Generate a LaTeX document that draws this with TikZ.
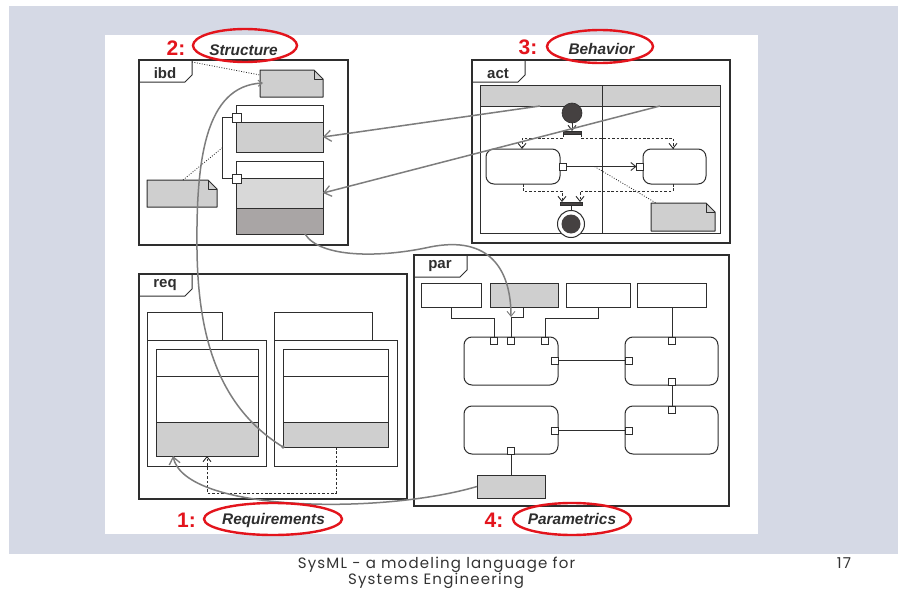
\documentclass[tikz,border=0pt]{standalone}
\usepackage{fontspec}
\setmainfont{Liberation Sans}
\newfontfamily\slidefont[LetterSpace=8]{Poppins}
\usetikzlibrary{arrows.meta,calc,shapes.geometric}

\definecolor{band}{HTML}{D5D9E5}
\definecolor{ink}{HTML}{2E2E2E}
\definecolor{lgray}{HTML}{CFCFCF}
\definecolor{mgray}{HTML}{D8D8D8}
\definecolor{dgray}{HTML}{A9A5A5}
\definecolor{knob}{HTML}{454141}
\definecolor{link}{HTML}{7D7D7D}
\definecolor{hilite}{HTML}{E3141C}

\tikzset{
  box/.style={draw=ink, line width=1pt, inner sep=0pt, outer sep=0pt, anchor=north west},
  ghost/.style={inner sep=0pt, outer sep=0pt, anchor=north west},
  frame/.style={box, line width=1.1pt},
  rbox/.style={box, rounded corners=8pt},
  pin/.style={draw=ink, fill=white, line width=0.9pt, minimum size=7pt, inner sep=0pt, outer sep=0pt},
  wire/.style={draw=ink, line width=0.9pt},
  dflow/.style={wire, dash pattern=on 2.6pt off 1.8pt},
  dots/.style={draw=ink, line width=0.8pt, dash pattern=on 0.9pt off 1.6pt},
  trace/.style={draw=link, line width=1.5pt},
  vtip/.style={-{Straight Barb[length=5pt,width=8pt,line width=0.9pt]}},
  gtip/.style={-{Straight Barb[length=7pt,width=11pt,line width=1.3pt]}},
  tag/.style={inner sep=0pt, anchor=base, text=ink, font=\fontsize{15}{15}\selectfont\bfseries},
  ring/.style={ellipse, draw=hilite, line width=2.4pt, inner sep=0pt},
  num/.style={inner sep=0pt, anchor=base, text=hilite, font=\fontsize{21}{21}\selectfont\bfseries},
  caption/.style={inner sep=0pt, anchor=base, text=ink, font=\fontsize{15.4}{15.4}\selectfont\bfseries\itshape},
  foot/.style={inner sep=0pt, anchor=base, text=black!80, font=\slidefont\fontsize{15}{15}\selectfont},
}

% frame tab: frame node, label, baseline offset below the frame top
\newcommand\frametab[3]{%
  \draw[ink, line width=1pt] ([xshift=53pt]#1.north west) -- ++(0,15) -- ++(-7,7) -- ([yshift=-22pt]#1.north west);
  \node[tag] at ([xshift=26pt,yshift=-#3pt]#1.north west) {#2};
}

% note with a dog-eared corner, drawn over an invisible node
\newcommand\foldnote[1]{%
  \filldraw[fill=lgray, draw=ink, line width=1pt, line join=round]
    (#1.north west) -- ([xshift=-9pt]#1.north east) -- ([yshift=-9pt]#1.north east)
    -- (#1.south east) -- (#1.south west) -- cycle;
  \draw[ink, line width=0.8pt, line join=round]
    ([xshift=-9pt]#1.north east) -- ([xshift=-9pt,yshift=-9pt]#1.north east) -- ([yshift=-9pt]#1.north east);
}

\begin{document}
\begin{tikzpicture}[x=1pt,y=-1pt]
\useasboundingbox (0,0) rectangle (898,589);
\fill[white] (0,0) rectangle (898,589);
\fill[band] (9,6) rectangle (898,554);
\fill[white] (105,35) rectangle (758,534);

% ---------------- ibd ----------------
\node[frame, minimum width=209pt, minimum height=185pt] (ibd) at (139,60) {};
\frametab{ibd}{ibd}{18}

\node[ghost, minimum width=63pt, minimum height=27pt] (n1) at (260,70) {};
\foldnote{n1}
\node[ghost, minimum width=70pt, minimum height=27pt] (n2) at (147,180) {};
\foldnote{n2}

\node[box, fill=white, minimum width=87pt, minimum height=17pt] (b1a) at (236,105) {};
\node[box, fill=lgray, minimum width=87pt, minimum height=30pt] (b1b) at (236,122) {};
\node[box, fill=white, minimum width=87pt, minimum height=17pt] (b2a) at (236,161) {};
\node[box, fill=mgray, minimum width=87pt, minimum height=30pt] (b2b) at (236,178) {};
\node[box, fill=dgray, minimum width=87pt, minimum height=26pt] (b2c) at (236,208) {};

\node[pin, minimum size=9pt] (pt1) at (236.5,117.5) {};
\node[pin, minimum size=9pt] (pt2) at (236.5,178.5) {};
\draw[wire] (pt1.west) -- ++(-10,0) |- (pt2.west);
\coordinate (tap) at (222,148);
\draw[dots] ([xshift=36pt]n2.north west) -- (tap);
\draw[dots] ([xshift=53pt,yshift=-2pt]ibd.north west) -- ([yshift=-5pt]n1.north west);

% ---------------- act ----------------
\node[frame, minimum width=258pt, minimum height=183pt] (act) at (472,60) {};
\frametab{act}{act}{18}

\node[box, fill=white, minimum width=240pt, minimum height=148pt] (lanes) at (480,85) {};
\node[box, fill=lgray, minimum width=240pt, minimum height=21pt] (hdr) at (480,85) {};
\draw[wire, line width=1pt] ([xshift=122pt]lanes.north west) -- ([xshift=122pt]lanes.south west);

\node[circle, fill=knob, draw=ink, line width=0.6pt, minimum size=20pt, inner sep=0pt] (init) at (572,113) {};
\node[box, fill=knob, minimum width=18pt, minimum height=3pt] (fork) at (563,131) {};
\draw[wire, vtip] (init.south) -- (fork.north);

\node[rbox, fill=white, minimum width=74pt, minimum height=35pt] (a1) at (486,149) {};
\node[rbox, fill=white, minimum width=63pt, minimum height=35pt] (a2) at (643,149) {};
\node[pin] (o1) at (563,166.5) {};
\node[pin] (i2) at (640,166.5) {};

\draw[dflow, vtip] (fork.south west) -- ++(0,4) -| ([xshift=36pt]a1.north west);
\draw[dflow, vtip] (fork.south east) -- ++(0,4) -| ([xshift=30pt]a2.north west);

\draw[wire, vtip] (o1.east) -- coordinate[pos=0.4] (cf) (i2.west);

\node[box, fill=knob, minimum width=22pt, minimum height=3pt] (join) at (560,202) {};
\draw[dflow, vtip] ([xshift=37pt]a1.south west) -- ++(0,7) -| ([xshift=2pt]join.north west);
\draw[dflow, vtip] ([xshift=30pt]a2.south west) -- ++(0,7) -| ([xshift=-2pt]join.north east);

\node[circle, draw=ink, fill=white, line width=1pt, minimum size=27pt, inner sep=0pt] (fin) at (571,224) {};
\node[circle, fill=knob, minimum size=19pt, inner sep=0pt] (finc) at (fin) {};
\draw[wire] (join.south) -- (fin.north);

\node[ghost, minimum width=64pt, minimum height=28pt] (an) at (651,203) {};
\foldnote{an}
\draw[dots] (cf) -- ([xshift=5pt]an.north west);

% ---------------- req ----------------
\node[frame, minimum width=268pt, minimum height=225pt] (req) at (139,274) {};
\frametab{req}{req}{13.5}

\node[box, fill=white, minimum width=75pt, minimum height=28pt] (rt1) at (147,312) {};
\node[box, fill=white, minimum width=119pt, minimum height=126pt] (rb1) at (147,340) {};
\node[box, fill=white, minimum width=102pt, minimum height=27pt] (r1a) at (156,349) {};
\node[box, fill=white, minimum width=102pt, minimum height=46pt] (r1b) at (156,376) {};
\node[box, fill=lgray, minimum width=102pt, minimum height=34pt] (r1c) at (156,422) {};

\node[box, fill=white, minimum width=98pt, minimum height=28pt] (rt2) at (274,312) {};
\node[box, fill=white, minimum width=123pt, minimum height=126pt] (rb2) at (274,340) {};
\node[box, fill=white, minimum width=105pt, minimum height=27pt] (r2a) at (283,349) {};
\node[box, fill=white, minimum width=105pt, minimum height=46pt] (r2b) at (283,376) {};
\node[box, fill=lgray, minimum width=105pt, minimum height=25pt] (r2c) at (283,422) {};

\draw[dflow, vtip] ([xshift=53pt]r2c.south west) -- ++(0,46) -| ([xshift=51pt]r1c.south west);

% ---------------- par ----------------
\node[frame, minimum width=315pt, minimum height=251pt] (par) at (414,255) {};
\frametab{par}{par}{13.5}

\node[box, fill=white, minimum width=60pt, minimum height=24pt] (pb1) at (421,283) {};
\node[box, fill=lgray, minimum width=68pt, minimum height=24pt] (pb2) at (490,283) {};
\node[box, fill=white, minimum width=64pt, minimum height=24pt] (pb3) at (566,283) {};
\node[box, fill=white, minimum width=69pt, minimum height=24pt] (pb4) at (637.5,283) {};

\node[rbox, fill=white, minimum width=94pt, minimum height=48pt] (c1) at (464,337) {};
\node[rbox, fill=white, minimum width=93pt, minimum height=48pt] (c2) at (625,337) {};
\node[rbox, fill=white, minimum width=94pt, minimum height=48pt] (c3) at (464,406) {};
\node[rbox, fill=white, minimum width=93pt, minimum height=48pt] (c4) at (625,406) {};

\node[pin] (q1) at (494,340.5) {};
\node[pin] (q2) at (511,340.5) {};
\node[pin] (q3) at (545,340.5) {};
\node[pin] (q4) at (554.5,360.5) {};
\node[pin] (q5) at (672,340.5) {};
\node[pin] (q6) at (628.5,360.5) {};
\node[pin] (q7) at (672,381.5) {};
\node[pin] (q8) at (672,410) {};
\node[pin] (q9) at (554.5,430.5) {};
\node[pin] (q10) at (628.5,430.5) {};
\node[pin] (q11) at (511,451) {};

\node[box, fill=lgray, minimum width=68pt, minimum height=23pt] (pn) at (477,475) {};

\coordinate (elb) at (511,317);
\draw[wire] (pb1.south) -- ++(0,11) -| (q1.north);
\draw[wire] ([xshift=33pt]pb2.south west) |- (elb) -- (q2.north);
\draw[wire] (pb3.south) -- ++(0,11) -| (q3.north);
\draw[wire] (pb4.south) -- (q5.north);
\draw[wire] (q4.east) -- (q6.west);
\draw[wire] (q7.south) -- (q8.north);
\draw[wire] (q9.east) -- (q10.west);
\draw[wire] (q11.south) -- (pn.north);

% ---------------- cross-diagram traces ----------------
\draw[trace, gtip] ([xshift=60pt]hdr.south west) -- (b1b.east);
\draw[trace, gtip] ([xshift=180pt]hdr.south west) -- (b2b.east);

\fill[link] (r2c.south west) circle (1.8pt);
\draw[trace, -{Straight Barb[length=4pt,width=6pt,line width=1.1pt]}]
  (r2c.south west) .. controls (215,405) and (198,330) .. (197,250)
  .. controls (196,160) and (205,86) .. ([xshift=3pt,yshift=-13pt]n1.north west);

\draw[trace, vtip] ([xshift=69pt]b2c.south west) .. controls (320,258) and (380,258) .. (430,247)
  .. controls (490,235) and (511,270) .. (elb);

\draw[trace, gtip] (pn.west) .. controls (380,515) and (185,512) .. ([xshift=17pt]r1c.south west);

% ---------------- viewpoint labels ----------------
\node[ring, minimum width=104pt, minimum height=33pt] (e2) at (245,45.5) {};
\node[caption] (t2) at (243.5,55.7) {Structure};
\node[num] (k2) at (176,55.7) {2:};

\node[ring, minimum width=106pt, minimum height=33pt] (e3) at (600,46.5) {};
\node[caption] (t3) at (601.5,54.5) {Behavior};
\node[num] (k3) at (528,54.5) {3:};

\node[ring, minimum width=138pt, minimum height=32pt] (e1) at (273,519) {};
\node[caption] (t1) at (273.5,524.5) {Requirements};
\node[num] (k1) at (186.5,527) {1:};

\node[ring, minimum width=118pt, minimum height=32pt] (e4) at (572,519) {};
\node[caption] (t4) at (572,524.5) {Parametrics};
\node[num] (k4) at (494,527) {4:};

% ---------------- footer ----------------
\node[foot] (f1) at (436.5,568) {SysML - a modeling language for};
\node[foot] (f2) at (436,584) {Systems Engineering};
\node[foot] (pg) at (844,568) {17};
\end{tikzpicture}
\end{document}
